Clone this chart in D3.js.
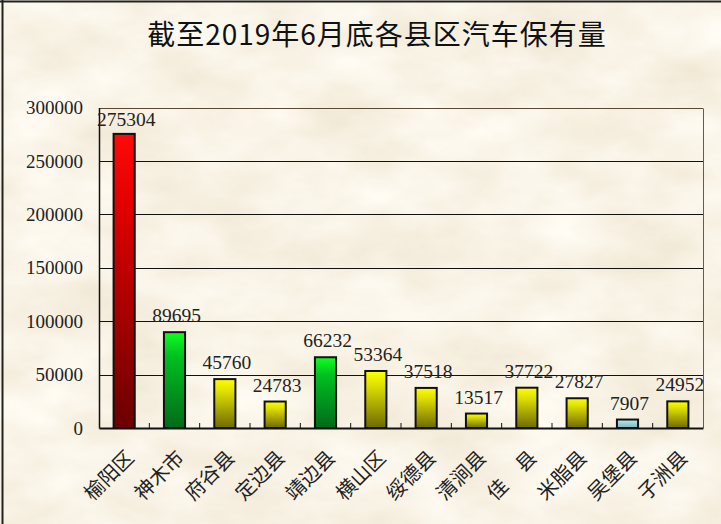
<!DOCTYPE html>
<html><head><meta charset="utf-8">
<script src="https://cdn.jsdelivr.net/npm/d3@7"></script>
<style>html,body{margin:0;padding:0;background:#efe2c3;}svg{display:block;}</style>
</head><body>
<svg id="chart" width="721" height="524"></svg>
<script>
const title = "截至2019年6月底各县区汽车保有量";
const categories = ["榆阳区","神木市","府谷县","定边县","靖边县","横山区","绥德县","清涧县","佳　县","米脂县","吴堡县","子洲县"];
const values = [275304,89695,45760,24783,66232,53364,37518,13517,37722,27827,7907,24952];
const colorGroups = ["red","green","yellow","yellow","green","yellow","yellow","yellow","yellow","yellow","blue","yellow"];
const yTicks = [0,50000,100000,150000,200000,250000,300000];

const W = 721, H = 524;
const svg = d3.select("#chart");
const defs = svg.append("defs");

// parchment texture
const f = defs.append("filter").attr("id","paper").attr("x",0).attr("y",0).attr("width","100%").attr("height","100%");
f.append("feTurbulence").attr("type","fractalNoise").attr("baseFrequency","0.01 0.018").attr("numOctaves",5).attr("seed",7).attr("result","n");
f.append("feColorMatrix").attr("in","n").attr("type","matrix")
 .attr("values","0.2 0 0 0 0.845  0.26 0 0 0 0.765  0.38 0 0 0 0.6  0 0 0 0 1");
svg.append("rect").attr("width",W).attr("height",H).attr("fill","#efe2c3");
svg.append("rect").attr("width",W).attr("height",H).attr("filter","url(#paper)");

// gradients
const grads = {
  red:["#ff0a0a","#e00000","#6a0000"],
  green:["#10ff20","#00c020","#006a1a"],
  yellow:["#ffff00","#e0e000","#6e6a00"],
  blue:["#c8eef5","#a8dde6","#80b4bc"]
};
Object.entries(grads).forEach(([k,c])=>{
  const g = defs.append("linearGradient").attr("id","g-"+k).attr("x1",0).attr("y1",0).attr("x2",0).attr("y2",1);
  g.append("stop").attr("offset","0%").attr("stop-color",c[0]);
  g.append("stop").attr("offset","25%").attr("stop-color",c[1]);
  g.append("stop").attr("offset","100%").attr("stop-color",c[2]);
});

// outer border (top & left)
svg.append("line").attr("x1",0).attr("x2",W).attr("y1",1.5).attr("y2",1.5).attr("stroke","#222").attr("stroke-width",2);
svg.append("line").attr("x1",2.5).attr("x2",2.5).attr("y1",0).attr("y2",H).attr("stroke","#222").attr("stroke-width",2);

const pLeft = 99, pRight = 703, pTop = 107.5, pBottom = 428;
const x = d3.scaleBand().domain(categories).range([pLeft,pRight]).paddingInner(0.58).paddingOuter(0.29);
const y = d3.scaleLinear().domain([0,300000]).range([pBottom, pTop]);

// title
svg.append("text").attr("x",377).attr("y",45).attr("text-anchor","middle")
 .attr("font-family","'Noto Sans CJK SC','Noto Sans',sans-serif").attr("font-size",28).attr("letter-spacing",1).attr("fill","#111")
 .text(title);

// gridlines
svg.append("g").selectAll("line").data(yTicks.filter(d=>d>0)).join("line")
 .attr("x1",pLeft).attr("x2",pRight).attr("y1",d=>Math.round(y(d))+0.5).attr("y2",d=>Math.round(y(d))+0.5)
 .attr("stroke",d=>d===300000?"#5a4a35":"#111").attr("stroke-width",1);
// right frame
svg.append("line").attr("x1",pRight+0.5).attr("x2",pRight+0.5).attr("y1",Math.round(y(300000))+0.5).attr("y2",pBottom)
 .attr("stroke","#6b5b45").attr("stroke-width",1);

// y axis
const yAxis = d3.axisLeft(y).tickValues(yTicks).tickSize(0).tickPadding(16).tickFormat(d3.format("d"));
const ga = svg.append("g").attr("transform",`translate(${pLeft},0)`).call(yAxis);
ga.select(".domain").attr("stroke","#111").attr("stroke-width",1.5);
ga.selectAll("text").attr("font-family","'Liberation Serif','Times New Roman',serif").attr("font-size",19).attr("fill","#222");

// bars
svg.append("g").selectAll("rect").data(values).join("rect")
 .attr("x",(d,i)=>x(categories[i])).attr("width",x.bandwidth())
 .attr("y",d=>y(d)).attr("height",d=>pBottom-y(d))
 .attr("fill",(d,i)=>`url(#g-${colorGroups[i]})`).attr("stroke","#111").attr("stroke-width",2);

// x axis
const xAxis = d3.axisBottom(x).tickSize(0).tickFormat("");
const gx = svg.append("g").attr("transform",`translate(0,${pBottom})`).call(xAxis);
gx.select(".domain").attr("stroke","#111").attr("stroke-width",2);
// tick marks at category boundaries (inward)
const step = x.step();
const bounds = d3.range(1,categories.length).map(i=>pLeft + i*step);
svg.append("g").selectAll("line").data(bounds).join("line")
 .attr("x1",d=>d).attr("x2",d=>d).attr("y1",pBottom-5).attr("y2",pBottom).attr("stroke","#111").attr("stroke-width",1);

// category labels
svg.append("g").selectAll("text").data(categories).join("text")
 .attr("transform",d=>`translate(${x(d)+x.bandwidth()/2+11},${pBottom+31}) rotate(-45)`)
 .attr("text-anchor","end")
 .attr("font-family","'Noto Sans CJK SC',sans-serif").attr("font-size",20).attr("fill","#222")
 .text(d=>d);

// value labels
svg.append("g").selectAll("text").data(values).join("text")
 .attr("x",(d,i)=>x(categories[i])+x.bandwidth()/2+2)
 .attr("y",d=>Math.max(y(d)-10,126))
 .attr("text-anchor","middle")
 .attr("font-family","'Liberation Serif','Times New Roman',serif").attr("font-size",19.5).attr("fill","#222")
 .text(d=>d);
</script>
</body></html>
